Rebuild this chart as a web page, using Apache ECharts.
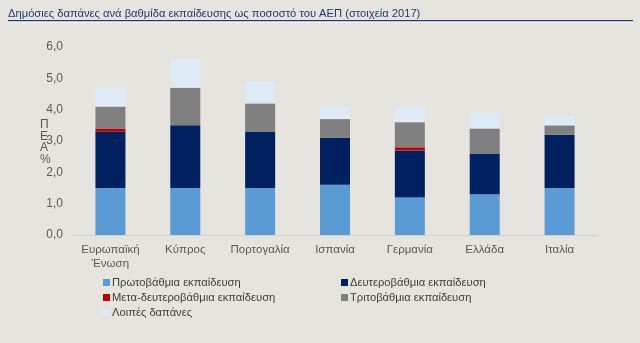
<!DOCTYPE html>
<html>
<head>
<meta charset="utf-8">
<script src="https://cdn.jsdelivr.net/npm/echarts@6/dist/echarts.min.js"></script>
<style>
html,body{margin:0;padding:0;background:#e6e4df;}
#c{width:640px;height:343px;}
</style>
</head>
<body>
<div id="c"></div>
<script>
var categories = ['Ευρωπαϊκή\nΈνωση', 'Κύπρος', 'Πορτογαλία', 'Ισπανία', 'Γερμανία', 'Ελλάδα', 'Ιταλία'];
var seriesNames = ['Πρωτοβάθμια εκπαίδευση', 'Δευτεροβάθμια εκπαίδευση', 'Μετα-δευτεροβάθμια εκπαίδευση', 'Τριτοβάθμια εκπαίδευση', 'Λοιπές δαπάνες'];
var primary   = [1.5, 1.5, 1.5, 1.6, 1.2, 1.3, 1.5];
var secondary = [1.8, 2.0, 1.8, 1.5, 1.5, 1.3, 1.7];
var postSec   = [0.1, 0, 0, 0, 0.1, 0, 0];
var tertiary  = [0.7, 1.2, 0.9, 0.6, 0.8, 0.8, 0.3];
var other     = [0.6, 0.9, 0.7, 0.4, 0.5, 0.5, 0.3];
var yTicks = [0, 1, 2, 3, 4, 5, 6];
var colors = ['#5b9bd5', '#002060', '#c00000', '#808080', '#deebf7'];

var values = [primary, secondary, postSec, tertiary, other];
var font = '"Liberation Sans", Arial, sans-serif';
var chart = echarts.init(document.getElementById('c'));
var series = seriesNames.map(function (n, i) {
  return {
    name: n, type: 'bar', stack: 'total', data: values[i], barWidth: 30,
    itemStyle: { color: colors[i] }
  };
});
chart.setOption({
  backgroundColor: '#e6e4df',
  animation: false,
  textStyle: { fontFamily: font },
  grid: { left: 73, right: 43, top: 47, bottom: 108 },
  xAxis: {
    type: 'category', data: categories,
    axisLine: { lineStyle: { color: '#d4d2cd', width: 1 } },
    axisTick: { show: false },
    axisLabel: { color: '#595959', fontSize: 11.5, fontFamily: font, margin: 8, lineHeight: 14, interval: 0 }
  },
  yAxis: {
    type: 'value', min: yTicks[0], max: yTicks[yTicks.length - 1], interval: 1,
    axisLine: { show: false }, axisTick: { show: false },
    splitLine: { show: false },
    axisLabel: {
      color: '#595959', fontSize: 12, fontFamily: font, margin: 10,
      formatter: function (v) { return v.toFixed(1).replace('.', ','); }
    }
  },
  legend: [
    {
      orient: 'vertical', left: 98, top: 272, itemWidth: 7, itemHeight: 7, itemGap: 4,
      icon: 'rect', data: [seriesNames[0], seriesNames[2], seriesNames[4]],
      textStyle: { color: '#404040', fontSize: 11.2, fontFamily: font, padding: [0, 0, 0, -3] }
    },
    {
      orient: 'vertical', left: 336, top: 272, itemWidth: 7, itemHeight: 7, itemGap: 4,
      icon: 'rect', data: [seriesNames[1], seriesNames[3]],
      textStyle: { color: '#404040', fontSize: 11.2, fontFamily: font, padding: [0, 0, 0, -3] }
    }
  ],
  graphic: [
    {
      type: 'text', left: 8, top: 8,
      style: { text: 'Δημόσιες δαπάνες ανά βαθμίδα εκπαίδευσης ως ποσοστό του ΑΕΠ (στοιχεία 2017)',
        fill: '#1f3a6e', font: '11.2px ' + font }
    },
    { type: 'rect', shape: { x: 8, y: 20, width: 625, height: 1.5 }, style: { fill: '#1f3a6e' } },
    { type: 'rect', shape: { x: 8, y: 21.5, width: 625, height: 1 }, style: { fill: '#ffffff' } },
    {
      type: 'text', left: 40, top: 119,
      style: { text: 'Π\nΕ\nΑ\n%', fill: '#595959', font: '12px ' + font, lineHeight: 11.5 }
    }
  ],
  series: series
});
</script>
</body>
</html>
